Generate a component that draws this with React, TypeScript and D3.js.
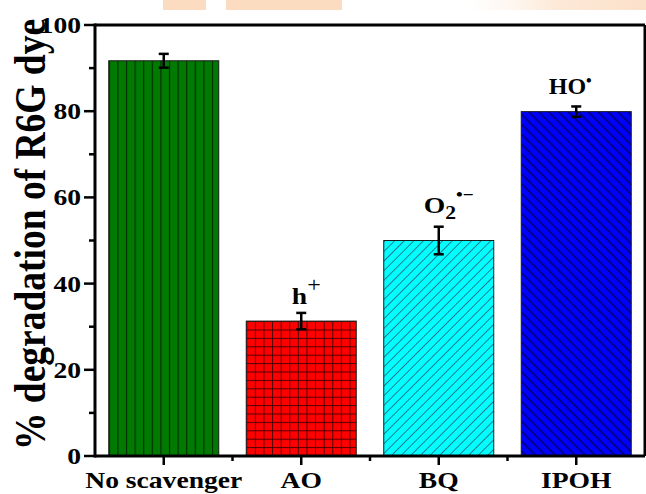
import React from "react";
import * as d3 from "d3";

// Scavenger experiment: % degradation of R6G dye
const categories = ["No scavenger", "AO", "BQ", "IPOH"];
const degradation = [91.7, 31.3, 50.0, 79.9];
const errorMargins = [1.6, 1.9, 3.2, 1.2];
const yTicks = [0, 20, 40, 60, 80, 100];
const yMinorTicks = [10, 30, 50, 70, 90];
const xMinorTicks = [1.5, 2.5, 3.5];

const W = 646;
const H = 494;
const M = { left: 95, right: 645, top: 25, bottom: 456 };
const SX = 1.2; // horizontal glyph stretch
const FONT = "Liberation Serif";

const patternIds = ["pGreen", "pRed", "pCyan", "pBlue"];
const txt = { fontFamily: FONT, fontWeight: 700 } as React.CSSProperties;

export default function App() {
  const x = d3.scaleLinear().domain([0.5, 4.5]).range([M.left, M.right]);
  const y = d3.scaleLinear().domain([0, 100]).range([M.bottom, M.top]);
  const barW = x(1.4) - x(0.6);

  const bars = categories.map((c, i) => ({
    c,
    v: degradation[i],
    e: errorMargins[i],
    cx: x(i + 1),
    x0: x(i + 1) - barW / 2,
    top: y(degradation[i]),
  }));

  const axisStroke = 3;

  return (
    <svg
      width={W}
      height={H}
      viewBox={`0 0 ${W} ${H}`}
      style={{ position: "absolute", left: 0, top: 0, background: "#fff" }}
    >
      <defs>
        <pattern id="pGreen" patternUnits="userSpaceOnUse" x={bars[0].x0} y={0} width={8.6} height={10}>
          <rect width={8.6} height={10} fill="#007a00" />
          <line x1={0.5} y1={0} x2={0.5} y2={10} stroke="#002a00" strokeWidth={1.2} />
        </pattern>
        <pattern id="pRed" patternUnits="userSpaceOnUse" x={bars[1].x0} y={bars[1].top} width={8.6} height={8.4}>
          <rect width={8.6} height={8.4} fill="#ff0000" />
          <line x1={0.5} y1={0} x2={0.5} y2={8.4} stroke="#500000" strokeWidth={1} />
          <line x1={0} y1={0.5} x2={8.6} y2={0.5} stroke="#500000" strokeWidth={1} />
        </pattern>
        <pattern id="pCyan" patternUnits="userSpaceOnUse" width={6.8} height={10} patternTransform="rotate(45)">
          <rect width={6.8} height={10} fill="#00ffff" />
          <line x1={0.5} y1={0} x2={0.5} y2={10} stroke="#1f6f7f" strokeWidth={0.9} />
        </pattern>
        <pattern id="pBlue" patternUnits="userSpaceOnUse" width={7} height={10} patternTransform="rotate(-45)">
          <rect width={7} height={10} fill="#0000ff" />
          <line x1={0.8} y1={0} x2={0.8} y2={10} stroke="#000070" strokeWidth={1.6} />
        </pattern>
        <linearGradient id="wmFade" x1="0" x2="1" y1="0" y2="0">
          <stop offset="0" stopColor="#fde6d2" stopOpacity={0} />
          <stop offset="0.5" stopColor="#fbd9bc" stopOpacity={0.7} />
          <stop offset="1" stopColor="#fad2b0" stopOpacity={0.8} />
        </linearGradient>
      </defs>

      {/* faint watermark strip along the top edge */}
      <g opacity={0.85}>
        <rect x={163} y={0} width={43} height={10} fill="#fbd6b6" />
        <rect x={226} y={0} width={116} height={10} fill="#fbd6b6" />
        <rect x={470} y={0} width={176} height={10} fill="url(#wmFade)" />
      </g>

      {/* bars */}
      {bars.map((b, i) => (
        <rect
          key={b.c}
          x={b.x0}
          y={b.top}
          width={barW}
          height={M.bottom - b.top}
          fill={`url(#${patternIds[i]})`}
          stroke="#1a1a1a"
          strokeWidth={1}
        />
      ))}

      {/* error bars */}
      {bars.map((b) => (
        <g key={`e-${b.c}`} stroke="#000" strokeWidth={2.5}>
          <line x1={b.cx} x2={b.cx} y1={y(b.v + b.e)} y2={y(b.v - b.e)} />
          <line x1={b.cx - 5} x2={b.cx + 5} y1={y(b.v + b.e)} y2={y(b.v + b.e)} />
          <line x1={b.cx - 5} x2={b.cx + 5} y1={y(b.v - b.e)} y2={y(b.v - b.e)} />
        </g>
      ))}

      {/* frame */}
      <g stroke="#000" strokeWidth={axisStroke} fill="none">
        <line x1={M.left} x2={M.right} y1={M.top} y2={M.top} />
        <line x1={M.right} x2={M.right} y1={M.top} y2={M.bottom} />
        <line x1={M.left} x2={M.right} y1={M.bottom} y2={M.bottom} />
        <line x1={M.left} x2={M.left} y1={M.top - 1.5} y2={M.bottom + 1.5} />
      </g>

      {/* ticks */}
      <g stroke="#000" strokeWidth={2.5}>
        {yTicks.map((t) => (
          <line key={`yt${t}`} x1={M.left - 11} x2={M.left} y1={y(t)} y2={y(t)} />
        ))}
        {yMinorTicks.map((t) => (
          <line key={`ym${t}`} x1={M.left - 6} x2={M.left} y1={y(t)} y2={y(t)} />
        ))}
        {categories.map((c, i) => (
          <line key={`xt${c}`} x1={x(i + 1)} x2={x(i + 1)} y1={M.bottom} y2={M.bottom + 9} />
        ))}
        {xMinorTicks.map((t) => (
          <line key={`xm${t}`} x1={x(t)} x2={x(t)} y1={M.bottom} y2={M.bottom + 5} />
        ))}
      </g>

      {/* y tick labels */}
      {yTicks.map((t) => (
        <text
          key={`yl${t}`}
          transform={`translate(${M.left - 14},${y(t) + 8}) scale(${SX},1)`}
          textAnchor="end"
          fontSize={23}
          fill="#000"
          style={txt}
        >
          {t}
        </text>
      ))}

      {/* category labels */}
      {categories.map((c, i) => (
        <text
          key={`xl${c}`}
          transform={`translate(${x(i + 1)},${488}) scale(${SX},1)`}
          textAnchor="middle"
          fontSize={23}
          fill="#000"
          style={txt}
        >
          {c}
        </text>
      ))}

      {/* y axis title */}
      <text
        transform={`translate(45,${(M.top + M.bottom) / 2 - 6}) scale(${SX},1) rotate(-90)`}
        textAnchor="middle"
        fontSize={37.5}
        fill="#000"
        style={txt}
      >
        % degradation of R6G dye
      </text>

      {/* reactive species labels */}
      <text
        transform={`translate(${x(2) + 5},${y(degradation[1] + errorMargins[1]) - 9}) scale(${SX},1)`}
        textAnchor="middle"
        fontSize={23}
        fill="#000"
        style={txt}
      >
        h
        <tspan dy={-12} fontSize={20} fontWeight="normal">+</tspan>
      </text>
      <text
        transform={`translate(${x(3) + 10},${y(degradation[2] + errorMargins[2]) - 14}) scale(${SX},1)`}
        textAnchor="middle"
        fontSize={23}
        fill="#000"
        style={txt}
      >
        O
        <tspan dy={6} fontSize={18}>2</tspan>
        <tspan dy={-19} fontSize={16}>•−</tspan>
      </text>
      <text
        transform={`translate(${x(4) - 6},${y(degradation[3] + errorMargins[3]) - 12})`}
        textAnchor="middle"
        fontSize={24}
        fill="#000"
        style={txt}
      >
        HO
        <tspan dy={-8} fontSize={16}>•</tspan>
      </text>
    </svg>
  );
}
